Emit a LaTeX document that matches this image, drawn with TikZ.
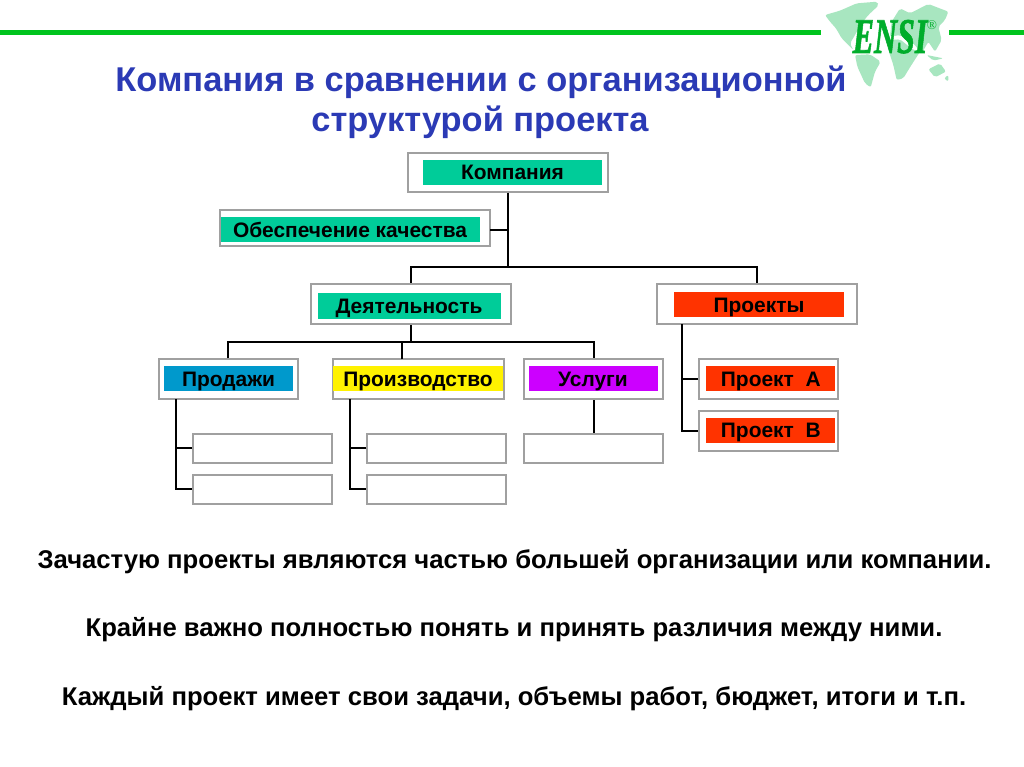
\documentclass[tikz,border=0pt]{standalone}
\usepackage{fontspec}
\setmainfont{Liberation Sans}
\newfontfamily\logofont[BoldItalicFeatures={FakeBold=1.5}]{Liberation Serif}
\definecolor{titleblue}{HTML}{2B3AB5}
\definecolor{linegreen}{HTML}{00C41E}
\definecolor{logogreen}{HTML}{00AD2B}
\definecolor{mapgreen}{HTML}{A8E6C0}
\definecolor{boxgray}{HTML}{A0A0A0}
\definecolor{teal}{HTML}{00CC99}
\definecolor{skyb}{HTML}{0099CC}
\definecolor{redor}{HTML}{FF3300}
\definecolor{viol}{HTML}{CC00FF}
\tikzset{
  sz/.style 2 args={minimum width=#1*0.75pt, minimum height=#2*0.75pt},
  outerbox/.style={draw=boxgray, line width=1.5pt, fill=white, inner sep=0pt},
  tagbox/.style={inner sep=0pt, font=\bfseries\fontsize{15.7pt}{17pt}\selectfont, text=black, text height=11.3pt, text depth=0pt},
  conn/.style={draw=black, line width=1.5pt, line join=miter},
  titletext/.style={anchor=base, font=\bfseries\fontsize{25.8pt}{28pt}\selectfont, text=titleblue, inner sep=0pt},
  bodytext/.style={anchor=base, font=\bfseries\fontsize{19.25pt}{21pt}\selectfont, text=black, inner sep=0pt},
  rule/.style={fill=linegreen, draw=none},
  landmass/.style={fill=mapgreen, draw=none, rounded corners=1.5pt}
}
\begin{document}
\begin{tikzpicture}[x=0.75pt,y=-0.75pt]
\useasboundingbox (0,0) rectangle (1024,767);
\fill[white] (0,0) rectangle (1024,767);
% top rule
\fill[rule] (0,30) rectangle (821,35);
\fill[rule] (949,30) rectangle (1024,35);
% logo map
\begin{scope}[shift={(800,0)},x=0.25pt,y=-0.25pt]
\fill[landmass] (75,45) -- (120,32) -- (170,10) -- (232,5) -- (236,16) -- (205,45) -- (185,70) -- (165,105) -- (150,130) -- (160,150) -- (125,115) -- (108,85) -- (90,65) -- cycle;
\fill[landmass] (165,165) -- (210,163) -- (242,185) -- (225,215) -- (212,262) -- (195,250) -- (172,200) -- cycle;
\fill[landmass] (262,140) -- (270,120) -- (300,118) -- (340,150) -- (360,155) -- (328,205) -- (310,235) -- (290,240) -- (280,195) -- cycle;
\fill[landmass] (270,110) -- (275,65) -- (300,25) -- (330,40) -- (385,12) -- (445,35) -- (435,60) -- (415,80) -- (425,120) -- (405,155) -- (385,125) -- (365,160) -- (340,130) -- (300,105) -- cycle;
\fill[landmass] (385,208) -- (420,190) -- (438,215) -- (405,232) -- cycle;
\fill[landmass] (380,165) -- (430,175) -- (400,182) -- cycle;
\fill[landmass] (432,235) -- (445,225) -- (445,245) -- cycle;
\end{scope}
\node[anchor=base, inner sep=0pt, text=logogreen, font=\logofont\bfseries\itshape\fontsize{37.5pt}{38pt}\selectfont, xscale=0.64] (logo) at (890,53) {ENSI};
\node[anchor=base, inner sep=0pt, text=logogreen, font=\logofont\fontsize{10pt}{10pt}\selectfont] (logor) at (932,30) {®};
% title
\node[titletext] (t1) at (481,92) {Компания в сравнении с организационной};
\node[titletext] (t2) at (480,132) {структурой проекта};
% boxes
\node[outerbox,sz={200}{39}] (comp) at (508,172) {};
\node[tagbox,fill=teal,sz={179}{25}] (compL) at (512.5,172) {Компания};
\node[outerbox,sz={270}{36}] (qual) at (355,228) {};
\node[tagbox,fill=teal,sz={259}{25}] (qualL) at (350,229.5) {Обеспечение качества};
\node[outerbox,sz={200}{40}] (act) at (411,304) {};
\node[tagbox,fill=teal,sz={183}{26}] (actL) at (409,306) {Деятельность};
\node[outerbox,sz={200}{40}] (proj) at (756.5,304) {};
\node[tagbox,fill=redor,sz={170}{25}] (projL) at (759,304.5) {Проекты};
\node[outerbox,sz={139}{40}] (sales) at (228.2,379.3) {};
\node[tagbox,fill=skyb,sz={129}{25}] (salesL) at (228.5,378.7) {Продажи};
\node[outerbox,sz={171}{40}] (make) at (418.5,379.3) {};
\node[tagbox,fill=yellow,sz={170}{25}] (makeL) at (418,378.7) {Производство};
\node[outerbox,sz={139}{40}] (serv) at (593.7,379.3) {};
\node[tagbox,fill=viol,sz={129}{25}] (servL) at (593,378.7) {Услуги};
\node[outerbox,sz={139}{40}] (pa) at (768,379.3) {};
\node[tagbox,fill=redor,sz={129}{25}] (paL) at (770.8,378.7) {Проект~~A};
\node[outerbox,sz={139}{40}] (pb) at (768,430.7) {};
\node[tagbox,fill=redor,sz={129}{25}] (pbL) at (770.8,430.4) {Проект~~B};
\node[outerbox,sz={139}{29}] (s1) at (262.5,448.3) {};
\node[outerbox,sz={139}{29}] (s2) at (262.5,489.3) {};
\node[outerbox,sz={139}{29}] (m1) at (436.8,448.3) {};
\node[outerbox,sz={139}{29}] (m2) at (436.8,489.3) {};
\node[outerbox,sz={139}{29}] (v1) at (593.7,448.3) {};
% connector junctions
\coordinate (hubA) at (508,267);
\coordinate (hubB) at (411,341.7);
\coordinate (dropM) at (402.3,359.3);
\coordinate (spineS) at (175.7,399.3);
\coordinate (spineM) at (350.3,399.3);
\coordinate (spineP) at (681.7,324);
\coordinate (qualOut) at (490,229.7);
% connectors
\draw[conn] (comp.south) -- (hubA);
\draw[conn] (qualOut) -- (qualOut -| hubA);
\draw[conn] (act.north) |- (hubA) -| (proj.north);
\draw[conn] (act.south) -- (hubB);
\draw[conn] (sales.north) |- (hubB) -| (serv.north);
\draw[conn] (dropM) -- (dropM |- hubB);
\draw[conn] (spineS) |- (s2.west);
\draw[conn] (s1.west) -- (s1.west -| spineS);
\draw[conn] (spineM) |- (m2.west);
\draw[conn] (m1.west) -- (m1.west -| spineM);
\draw[conn] (serv.south) -- (v1.north);
\draw[conn] (spineP) |- (pb.west);
\draw[conn] (pa.west) -- (pa.west -| spineP);
% body
\node[bodytext] (b1) at (514.5,568.5) {Зачастую проекты являются частью большей организации или компании.};
\node[bodytext] (b2) at (514,636) {Крайне важно полностью понять и принять различия между ними.};
\node[bodytext] (b3) at (514,705) {Каждый проект имеет свои задачи, объемы работ, бюджет, итоги и т.п.};
\end{tikzpicture}
\end{document}
